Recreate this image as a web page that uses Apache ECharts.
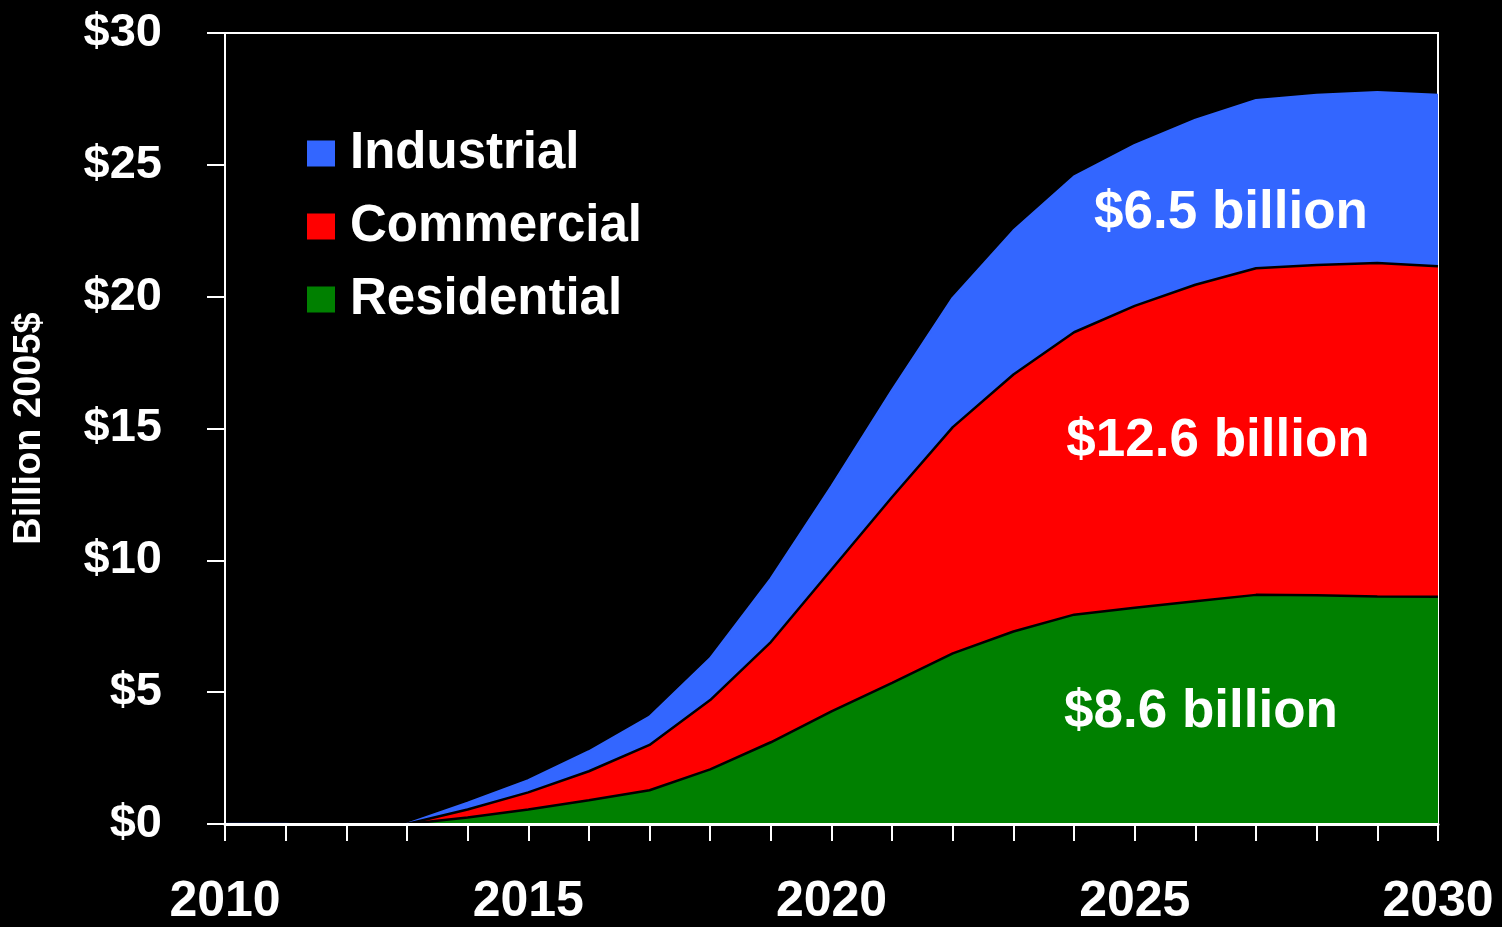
<!DOCTYPE html>
<html>
<head>
<meta charset="utf-8">
<title>Billion 2005$ by sector</title>
<script src="https://cdn.jsdelivr.net/npm/echarts@6/dist/echarts.min.js"></script>
<style>
    html, body { margin: 0; padding: 0; background: #000; overflow: hidden; }
    #main { width: 1502px; height: 927px; }
</style>
</head>
<body>
<div id="main"></div>
<script>
// years on the x axis
const years = ['2010', '2011', '2012', '2013', '2014', '2015', '2016', '2017', '2018', '2019', '2020',
    '2021', '2022', '2023', '2024', '2025', '2026', '2027', '2028', '2029', '2030']

// billion 2005$, each sector's own slice (stacked in the chart)
const residential = [0, 0, 0, 0, 0.25, 0.55, 0.9, 1.28, 2.07, 3.1, 4.27,
    5.35, 6.47, 7.3, 7.94, 8.2, 8.45, 8.69, 8.68, 8.63, 8.62]
const commercial = [0, 0, -0.13, 0, 0.3, 0.65, 1.1, 1.72, 2.63, 3.8, 5.38,
    7.05, 8.58, 9.75, 10.71, 11.45, 12.0, 12.39, 12.52, 12.65, 12.53]
const industrial = [0, 0, 0, 0, 0.25, 0.45, 0.75, 1.06, 1.58, 2.4, 3.15,
    4.05, 4.9, 5.45, 5.9, 6.1, 6.25, 6.37, 6.45, 6.47, 6.5]

const yTicks = [0, 5, 10, 15, 20, 25, 30]
const xLabelYears = ['2010', '2015', '2020', '2025', '2030']

const notes = [
    { text: '$6.5 billion', x: 1231, y: 213 },
    { text: '$12.6 billion', x: 1218, y: 441 },
    { text: '$8.6 billion', x: 1201, y: 712 },
]

const FONT = '"Liberation Sans", Arial, sans-serif'

const chart = echarts.init(document.getElementById('main'), null, {
    renderer: 'canvas', width: 1502, height: 927,
})

function sector(name, vals, color, edge, z) {
    return {
        name: name,
        type: 'line',
        stack: 'total',
        z: z,
        symbol: 'none',
        itemStyle: { color: color },
        lineStyle: { color: edge, width: 2.5 },
        areaStyle: { color: color, opacity: 1 },
        data: vals,
    }
}

chart.setOption({
    backgroundColor: '#000',
    animation: false,
    grid: {
        left: 225,
        right: 64,
        top: 33,
        bottom: 97,
        show: true,
        borderColor: '#fff',
        borderWidth: 2,
        backgroundColor: 'transparent',
    },
    legend: {
        orient: 'vertical',
        left: 302,
        top: 123,
        itemGap: 22,
        itemWidth: 28,
        itemHeight: 26,
        icon: 'rect',
        data: ['Industrial', 'Commercial', 'Residential'],
        textStyle: {
            color: '#fff',
            fontFamily: FONT,
            fontWeight: 'bold',
            fontSize: 51,
            lineHeight: 48,
            padding: [0, 0, 0, 10],
        },
    },
    xAxis: {
        type: 'category',
        data: years,
        boundaryGap: false,
        z: 5,
        splitLine: { show: false },
        axisLine: { show: true, lineStyle: { color: '#fff', width: 3 } },
        axisTick: { show: true, interval: 0, length: 17, lineStyle: { color: '#fff', width: 2 } },
        axisLabel: {
            color: '#fff',
            fontFamily: FONT,
            fontWeight: 'bold',
            fontSize: 50,
            margin: 53,
            interval: (i, v) => xLabelYears.includes(v),
        },
    },
    yAxis: {
        type: 'value',
        min: yTicks[0],
        max: yTicks[yTicks.length - 1],
        interval: 5,
        z: 5,
        name: 'Billion 2005$',
        nameLocation: 'middle',
        nameRotate: 90,
        nameGap: 176,
        nameTextStyle: {
            color: '#fff',
            fontFamily: FONT,
            fontWeight: 'bold',
            fontSize: 38,
        },
        splitLine: { show: false },
        axisLine: { show: true, lineStyle: { color: '#fff', width: 2 } },
        axisTick: { show: true, length: 18, lineStyle: { color: '#fff', width: 2 } },
        axisLabel: {
            color: '#fff',
            fontFamily: FONT,
            fontWeight: 'bold',
            fontSize: 47,
            margin: 63,
            formatter: v => '$' + v,
        },
    },
    series: [
        sector('Residential', residential, '#008000', '#000', 3),
        sector('Commercial', commercial, '#ff0000', '#000', 3),
        sector('Industrial', industrial, '#3366ff', '#3366ff', 2),
    ],
    graphic: notes.map(n => ({
        type: 'text',
        x: n.x,
        y: n.y,
        z: 10,
        style: {
            text: n.text,
            fill: '#fff',
            font: 'bold 53px ' + FONT,
            textAlign: 'center',
            textVerticalAlign: 'middle',
        },
    })),
})
</script>
</body>
</html>
